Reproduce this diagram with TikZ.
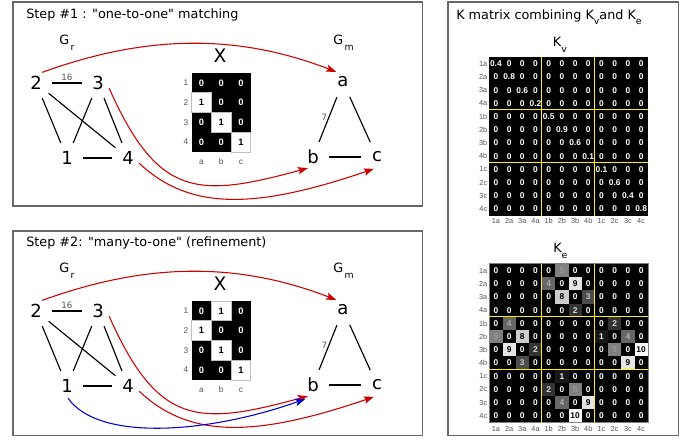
\documentclass[tikz,border=0pt]{standalone}
\usepackage{fontspec}
\setmainfont{DejaVu Sans}[Ligatures=TeXOff]
\newfontfamily\matfont{Liberation Sans}
\usetikzlibrary{arrows.meta}

\definecolor{framegray}{RGB}{105,105,105}
\definecolor{tickgray}{RGB}{85,85,85}
\definecolor{matchred}{RGB}{204,0,0}
\definecolor{matchblue}{RGB}{0,0,210}

\newcommand{\xtop}{0,0,0,1,0,0,0,1,0,0,0,1}
\newcommand{\xbot}{0,1,0,1,0,0,0,1,0,0,0,1}
\newcommand{\kvdiag}{0.4,0.8,0.6,0.2,0.5,0.9,0.6,0.1,0.1,0.6,0.4,0.8}
\newcommand{\kevals}{%
0,0,0,0,0,5,0,0,0,0,0,0,%
0,0,0,0,4,0,9,0,0,0,0,0,%
0,0,0,0,0,8,0,3,0,0,0,0,%
0,0,0,0,0,0,2,0,0,0,0,0,%
0,4,0,0,0,0,0,0,0,2,0,0,%
5,0,8,0,0,0,0,0,1,0,4,0,%
0,9,0,2,0,0,0,0,0,5,0,10,%
0,0,3,0,0,0,0,0,0,0,9,0,%
0,0,0,0,0,1,0,0,0,0,0,0,%
0,0,0,0,2,0,5,0,0,0,0,0,%
0,0,0,0,0,4,0,9,0,0,0,0,%
0,0,0,0,0,0,10,0,0,0,0,0}
\newcommand{\klabels}{1a,2a,3a,4a,1b,2b,3b,4b,1c,2c,3c,4c}

\tikzstyle{panelbox} = [draw=framegray, line width=1pt]
\tikzstyle{vtx} = [circle, minimum size=18pt, inner sep=0pt, font=\fontsize{13.5}{13.5}\selectfont]
\tikzstyle{gedge} = [line width=0.85pt, shorten <=3pt, shorten >=3pt]
\tikzstyle{wt} = [font=\fontsize{6.5}{6.5}\selectfont, text=tickgray, inner sep=1pt]
\tikzstyle{matcharrow} = [line width=0.8pt, -{Stealth[length=7.5pt,width=5.5pt,inset=1.5pt]}]
\tikzstyle{xcell} = [minimum size=14.81pt, inner sep=0pt, font=\matfont\bfseries\fontsize{7}{7}\selectfont]
\tikzstyle{kcell} = [minimum size=9.9pt, inner sep=0pt, font=\matfont\bfseries\fontsize{6.3}{6.3}\selectfont]
\tikzstyle{ticklbl} = [font=\matfont\fontsize{5.5}{5.5}\selectfont, text=tickgray, inner sep=0pt]
\tikzstyle{subttl} = [font=\fontsize{9.6}{12}\selectfont, inner sep=0pt, anchor=base west]

\begin{document}
\begin{tikzpicture}[x=0.75pt, y=-0.75pt]
\useasboundingbox (0,0) rectangle (691,439);

% frames
\draw[panelbox] (13,2) rectangle (422.5,206);
\draw[panelbox] (13,231) rectangle (422.5,435.5);
\draw[panelbox] (448,2) rectangle (678.5,435.5);

\node[subttl] (step1) at (26,18.7) {Step \#1 : "one-to-one" matching};
\node[subttl] (step2) at (26,246.7) {Step \#2: "many-to-one" (refinement)};

% both steps: G_r, G_m, X and the matching arrows
\foreach \p/\dy in {t/0, b/228} {
\begin{scope}[shift={(0,\dy)}]
  \node[subttl] (\p-gr) at (59,44.3) {G\kern1pt\raisebox{-0.45em}{\fontsize{7}{7}\selectfont r}};
  \node[subttl] (\p-gm) at (333,44.3) {G\kern1pt\raisebox{-0.45em}{\fontsize{7}{7}\selectfont m}};

  \node[vtx] (\p-2) at (36,83) {2};
  \node[vtx] (\p-3) at (98,83) {3};
  \node[vtx] (\p-1) at (67,158) {1};
  \node[vtx] (\p-4) at (128,158) {4};
  \node[vtx] (\p-a) at (343,82) {a};
  \node[vtx] (\p-b) at (313,157) {b};
  \node[vtx] (\p-c) at (377,157) {c};

  \draw[gedge] (\p-2) -- node[wt, above] (\p-w16) {16} (\p-3);
  \foreach \u/\w in {2/1, 3/1, 2/4, 3/4, 1/4}
    \draw[gedge] (\p-\u) -- (\p-\w);
  \draw[gedge] (\p-a) -- node[wt, left, pos=0.45] (\p-w7) {7} (\p-b);
  \draw[gedge] (\p-a) -- (\p-c);
  \draw[gedge] (\p-b) -- (\p-c);

  % X
  \node[font=\fontsize{14}{14}\selectfont, inner sep=0pt] (\p-X) at (220,56) {X};
  \fill[black] (191.5,73) rectangle (250.75,152);
  \ifnum\dy=0 \let\xvals\xtop \else \let\xvals\xbot \fi
  \foreach \v [count=\k from 0] in \xvals {
    \pgfmathtruncatemacro\xr{int(\k/3)}
    \pgfmathtruncatemacro\xc{mod(\k,3)}
    \ifnum\v=1
      \node[xcell, fill=white, draw=gray!50, text=black] (\p-x\xr\xc) at ({191.5+19.75*(\xc+0.5)},{73+19.75*(\xr+0.5)}) {1};
    \else
      \node[xcell, text=white] (\p-x\xr\xc) at ({191.5+19.75*(\xc+0.5)},{73+19.75*(\xr+0.5)}) {0};
    \fi
  }
  \foreach \r in {1,...,4}
    \node[ticklbl, anchor=east, font=\matfont\fontsize{6.2}{6.2}\selectfont] (\p-xr\r) at (188.5,{73+19.75*(\r-0.5)}) {\r};
  \foreach \c [count=\k from 0] in {a,b,c}
    \node[ticklbl, font=\matfont\fontsize{6.2}{6.2}\selectfont] (\p-xc\c) at ({191.5+19.75*(\k+0.5)},162) {\c};

  \draw[matcharrow, matchred] (\p-2.60) .. controls +(102,-37) and +(-101,-39) .. (\p-a.124);
  \draw[matcharrow, matchred] (\p-3.-25) .. controls +(49,110) and +(-110,30) .. (\p-b.245);
  \draw[matcharrow, matchred] (\p-4.-25) .. controls +(50,47) and +(-120,41) .. (\p-c.255);
\end{scope}
}
% refinement: 1 also goes to b
\draw[matcharrow, matchblue, shorten >=4.5pt] (b-1.-85) .. controls +(30,43) and +(-105,37) .. (b-b.260);

% K matrix panel
\node[subttl] (ktitle) at (456,19.3) {K matrix combining K\raisebox{-0.42em}{\fontsize{7}{7}\selectfont v}and K\raisebox{-0.42em}{\fontsize{7}{7}\selectfont e}};
\node[subttl] (kvtitle) at (552.7,46.7) {K\raisebox{-0.42em}{\fontsize{7}{7}\selectfont v}};
\node[subttl] (ketitle) at (553,252.7) {K\raisebox{-0.42em}{\fontsize{7}{7}\selectfont e}};

\fill[black] (489.3,57.3) rectangle +(158.4,158.4);
\fill[black] (489.3,264) rectangle +(158.4,158.4);
\foreach \d [count=\kr from 0] in \kvdiag {
  \foreach \kc in {0,...,11} {
    \ifnum\kr=\kc \def\kvtxt{\d}\else\def\kvtxt{0}\fi
    \node[kcell, text=white] (kv-\kr-\kc) at ({489.3+13.2*(\kc+0.5)},{57.3+13.2*(\kr+0.5)}) {\kvtxt};
  }
}
\foreach \v [count=\k from 0] in \kevals {
  \pgfmathtruncatemacro\kr{int(\k/12)}
  \pgfmathtruncatemacro\kc{mod(\k,12)}
  \pgfmathtruncatemacro\g{10*\v}
  \pgfmathtruncatemacro\tg{100-8*\v}
  \ifnum\v>5 \def\tcol{black}\else\def\tcol{white!\tg!black}\fi
  \ifnum\v>0
    \node[kcell, fill=white!\g!black, text=\tcol] (ke-\kr-\kc) at ({489.3+13.2*(\kc+0.5)},{264+13.2*(\kr+0.5)}) {\v};
  \else
    \node[kcell, text=white] (ke-\kr-\kc) at ({489.3+13.2*(\kc+0.5)},{264+13.2*(\kr+0.5)}) {\v};
  \fi
}
\draw[gray, line width=0.6pt] (ke-0-0.north west) rectangle (ke-11-11.south east);
\foreach \m in {kv,ke} {
  \draw[yellow, line width=0.8pt] (\m-0-4.north west) -- (\m-11-4.south west);
  \draw[yellow, line width=0.8pt] (\m-0-8.north west) -- (\m-11-8.south west);
  \draw[yellow, line width=0.8pt] (\m-4-0.north west) -- (\m-4-11.north east);
  \draw[yellow, line width=0.8pt] (\m-8-0.north west) -- (\m-8-11.north east);
}
\foreach \n [count=\k from 0] in \klabels {
  \node[ticklbl, anchor=east] (kvr-\k) at (487.5,{57.3+13.2*(\k+0.5)}) {\n};
  \node[ticklbl] (kvc-\k) at ({489.3+13.2*(\k+0.5)},220.7) {\n};
  \node[ticklbl, anchor=east] (ker-\k) at (487.5,{264+13.2*(\k+0.5)}) {\n};
  \node[ticklbl] (kec-\k) at ({489.3+13.2*(\k+0.5)},429) {\n};
}
\end{tikzpicture}
\end{document}
